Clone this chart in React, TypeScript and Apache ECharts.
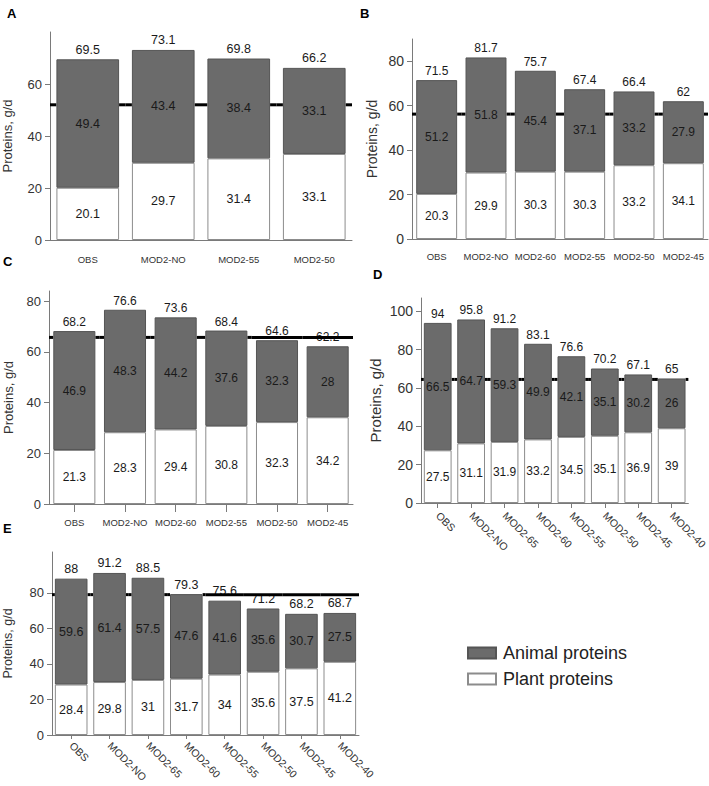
import React, { useEffect, useRef } from "react";
import * as echarts from "echarts";

const FONT = '"Liberation Sans", Arial, Helvetica, sans-serif';

// ---- Data ----
const catsA = ["OBS", "MOD2-NO", "MOD2-55", "MOD2-50"];
const plantA = [20.1, 29.7, 31.4, 33.1];
const animalA = [49.4, 43.4, 38.4, 33.1];
const totalA = [69.5, 73.1, 69.8, 66.2];
const refA = 52;

const catsB = ["OBS", "MOD2-NO", "MOD2-60", "MOD2-55", "MOD2-50", "MOD2-45"];
const plantB = [20.3, 29.9, 30.3, 30.3, 33.2, 34.1];
const animalB = [51.2, 51.8, 45.4, 37.1, 33.2, 27.9];
const totalB = [71.5, 81.7, 75.7, 67.4, 66.4, 62];
const refB = 56.2;

const catsC = ["OBS", "MOD2-NO", "MOD2-60", "MOD2-55", "MOD2-50", "MOD2-45"];
const plantC = [21.3, 28.3, 29.4, 30.8, 32.3, 34.2];
const animalC = [46.9, 48.3, 44.2, 37.6, 32.3, 28];
const totalC = [68.2, 76.6, 73.6, 68.4, 64.6, 62.2];
const refC = 65.7;

const catsD = ["OBS", "MOD2-NO", "MOD2-65", "MOD2-60", "MOD2-55", "MOD2-50", "MOD2-45", "MOD2-40"];
const plantD = [27.5, 31.1, 31.9, 33.2, 34.5, 35.1, 36.9, 39];
const animalD = [66.5, 64.7, 59.3, 49.9, 42.1, 35.1, 30.2, 26];
const totalD = [94, 95.8, 91.2, 83.1, 76.6, 70.2, 67.1, 65];
const refD = 64.5;

const catsE = ["OBS", "MOD2-NO", "MOD2-65", "MOD2-60", "MOD2-55", "MOD2-50", "MOD2-45", "MOD2-40"];
const plantE = [28.4, 29.8, 31, 31.7, 34, 35.6, 37.5, 41.2];
const animalE = [59.6, 61.4, 57.5, 47.6, 41.6, 35.6, 30.7, 27.5];
const totalE = [88, 91.2, 88.5, 79.3, 75.6, 71.2, 68.2, 68.7];
const refE = 79;

const yTicksA = [0, 20, 40, 60];
const yTicksB = [0, 20, 40, 60, 80];
const yTicksC = [0, 20, 40, 60, 80];
const yTicksD = [0, 20, 40, 60, 80, 100];
const yTicksE = [0, 20, 40, 60, 80];

const SERIES_ANIMAL = "Animal proteins";
const SERIES_PLANT = "Plant proteins";

// ---- Layout (per panel) ----
const panels = [
  { letter: "A", lx: 7, ly: 7, cats: catsA, plant: plantA, animal: animalA, total: totalA, ref: refA, ticks: yTicksA,
    grid: { left: 48, top: 32, width: 304, height: 208 }, yMax: 80, tickFont: 13, nameFont: 13, nameGap: 36,
    valFont: 12.5, xFont: 9.5, xRotate: 0, xMargin: 14, xTick: false, barFrac: 0.83 },
  { letter: "B", lx: 360, ly: 7, cats: catsB, plant: plantB, animal: animalB, total: totalB, ref: refB, ticks: yTicksB,
    grid: { left: 412, top: 39, width: 296, height: 200 }, yMax: 90, tickFont: 14, nameFont: 14, nameGap: 33,
    valFont: 12, xFont: 9.5, xRotate: 0, xMargin: 12, xTick: false, barFrac: 0.83 },
  { letter: "C", lx: 3, ly: 255, cats: catsC, plant: plantC, animal: animalC, total: totalC, ref: refC, ticks: yTicksC,
    grid: { left: 49, top: 291, width: 304, height: 213 }, yMax: 84, tickFont: 13, nameFont: 13, nameGap: 34,
    valFont: 12, xFont: 9.5, xRotate: 0, xMargin: 13, xTick: true, xTickLen: 8, barFrac: 0.83 },
  { letter: "D", lx: 373, ly: 268, cats: catsD, plant: plantD, animal: animalD, total: totalD, ref: refD, ticks: yTicksD,
    grid: { left: 421, top: 298, width: 281, height: 205 }, yMax: 107, tickFont: 14, nameFont: 15, nameGap: 38,
    valFont: 12, xFont: 10.5, xRotate: -45, xMargin: 11, xTick: true, xTickLen: 5, barFrac: 0.83 },
  { letter: "E", lx: 3, ly: 522, cats: catsE, plant: plantE, animal: animalE, total: totalE, ref: refE, ticks: yTicksE,
    grid: { left: 52, top: 552, width: 307, height: 183 }, yMax: 103, tickFont: 13, nameFont: 12.5, nameGap: 38,
    valFont: 12.5, xFont: 10.5, xRotate: -45, xMargin: 9, xTick: true, xTickLen: 4, barFrac: 0.85 },
];

const AXIS_COLOR = "#7a7a7a";
const TEXT_COLOR = "#1a1a1a";
const ANIMAL_COLOR = "#6b6b6b";
const PLANT_COLOR = "#ffffff";
const REF_WIDTH = 3;

function buildOption() {
  const grids: any[] = [];
  const xAxes: any[] = [];
  const yAxes: any[] = [];
  const series: any[] = [];
  const graphics: any[] = [];

  panels.forEach((p, i) => {
    grids.push({ ...p.grid, containLabel: false });
    xAxes.push({
      type: "category",
      gridIndex: i,
      data: p.cats,
      axisLine: { show: true, lineStyle: { color: AXIS_COLOR, width: 1 } },
      axisTick: { show: p.xTick, alignWithLabel: true, length: p.xTickLen || 5, lineStyle: { color: AXIS_COLOR } },
      axisLabel: {
        interval: 0,
        rotate: p.xRotate,
        margin: p.xMargin,
        fontSize: p.xFont,
        fontFamily: FONT,
        color: "#333",
      },
      splitLine: { show: false },
    });
    yAxes.push({
      type: "value",
      gridIndex: i,
      min: 0,
      max: p.yMax,
      name: "Proteins, g/d",
      nameLocation: "middle",
      nameGap: p.nameGap,
      nameRotate: 90,
      nameTextStyle: { fontSize: p.nameFont, fontFamily: FONT, color: "#333" },
      axisLine: { show: true, lineStyle: { color: AXIS_COLOR, width: 1 } },
      axisTick: { show: true, length: 5, customValues: p.ticks, lineStyle: { color: AXIS_COLOR } },
      axisLabel: { customValues: p.ticks, fontSize: p.tickFont, fontFamily: FONT, color: "#333", margin: 8 },
      splitLine: { show: false },
    });

    // total labels above each stacked bar
    series.push({
      type: "scatter",
      name: "total" + i,
      xAxisIndex: i,
      yAxisIndex: i,
      data: p.total,
      symbolSize: 0.1,
      z: 1,
      silent: true,
      itemStyle: { color: "#000", opacity: 1 },
      label: {
        show: true,
        position: "top",
        distance: 3,
        fontSize: p.valFont,
        fontFamily: FONT,
        color: TEXT_COLOR,
        opacity: 1,
      },
    });

    // reference line, hidden behind the bars (drawn only outside the bar bodies)
    const frac = p.barFrac;
    const totals = p.total;
    const refVal = p.ref;
    series.push({
      type: "custom",
      name: "ref" + i,
      xAxisIndex: i,
      yAxisIndex: i,
      silent: true,
      z: 2,
      data: p.cats.map((_, k) => [k, refVal]),
      renderItem: (params: any, api: any) => {
        const k = params.dataIndex;
        const tot = totals[k];
        const c = api.coord([k, refVal]);
        const band = api.size([1, 0])[0];
        const half = band / 2;
        const bw = (band * frac) / 2;
        const style = { stroke: "#000", lineWidth: REF_WIDTH, fill: "none" };
        const segs: any[] = [];
        if (tot >= refVal) {
          segs.push({ type: "line", shape: { x1: c[0] - half, y1: c[1], x2: c[0] - bw, y2: c[1] }, style });
          segs.push({ type: "line", shape: { x1: c[0] + bw, y1: c[1], x2: c[0] + half, y2: c[1] }, style });
        } else {
          segs.push({ type: "line", shape: { x1: c[0] - half, y1: c[1], x2: c[0] + half, y2: c[1] }, style });
        }
        return { type: "group", children: segs };
      },
    });

    series.push({
      type: "bar",
      name: SERIES_PLANT,
      xAxisIndex: i,
      yAxisIndex: i,
      stack: "s" + i,
      barWidth: Math.round(frac * 100) + "%",
      data: p.plant,
      z: 10,
      itemStyle: { color: PLANT_COLOR, borderColor: "#8c8c8c", borderWidth: 1, opacity: 1 },
      label: { show: true, position: "inside", fontSize: p.valFont, fontFamily: FONT, color: TEXT_COLOR },
    });
    series.push({
      type: "bar",
      name: SERIES_ANIMAL,
      xAxisIndex: i,
      yAxisIndex: i,
      stack: "s" + i,
      barWidth: Math.round(frac * 100) + "%",
      data: p.animal,
      z: 10,
      itemStyle: { color: ANIMAL_COLOR, borderColor: "#555555", borderWidth: 1, opacity: 1 },
      label: { show: true, position: "inside", fontSize: p.valFont, fontFamily: FONT, color: TEXT_COLOR },
    });

    graphics.push({
      type: "text",
      left: p.lx,
      top: p.ly,
      style: { text: p.letter, font: `bold 13px ${FONT}`, fill: "#000" },
    });
  });

  return {
    animation: false,
    backgroundColor: "#ffffff",
    grid: grids,
    xAxis: xAxes,
    yAxis: yAxes,
    series,
    graphic: graphics,
    legend: {
      data: [SERIES_ANIMAL, SERIES_PLANT],
      orient: "vertical",
      left: 462,
      top: 639,
      icon: "rect",
      itemWidth: 28,
      itemHeight: 11,
      itemGap: 8,
      selectedMode: false,
      textStyle: { fontSize: 18, fontFamily: FONT, color: "#222", lineHeight: 18, padding: [0, 0, 0, 2] },
    },
  };
}

export default function App() {
  const ref = useRef<HTMLDivElement>(null);
  useEffect(() => {
    document.body.style.margin = "0";
    if (!ref.current) return;
    const chart = echarts.init(ref.current, undefined, { renderer: "svg" });
    chart.setOption(buildOption() as any);
    return () => chart.dispose();
  }, []);
  return (
    <div
      ref={ref}
      style={{ position: "absolute", left: 0, top: 0, width: 709, height: 786, background: "#fff" }}
    />
  );
}
